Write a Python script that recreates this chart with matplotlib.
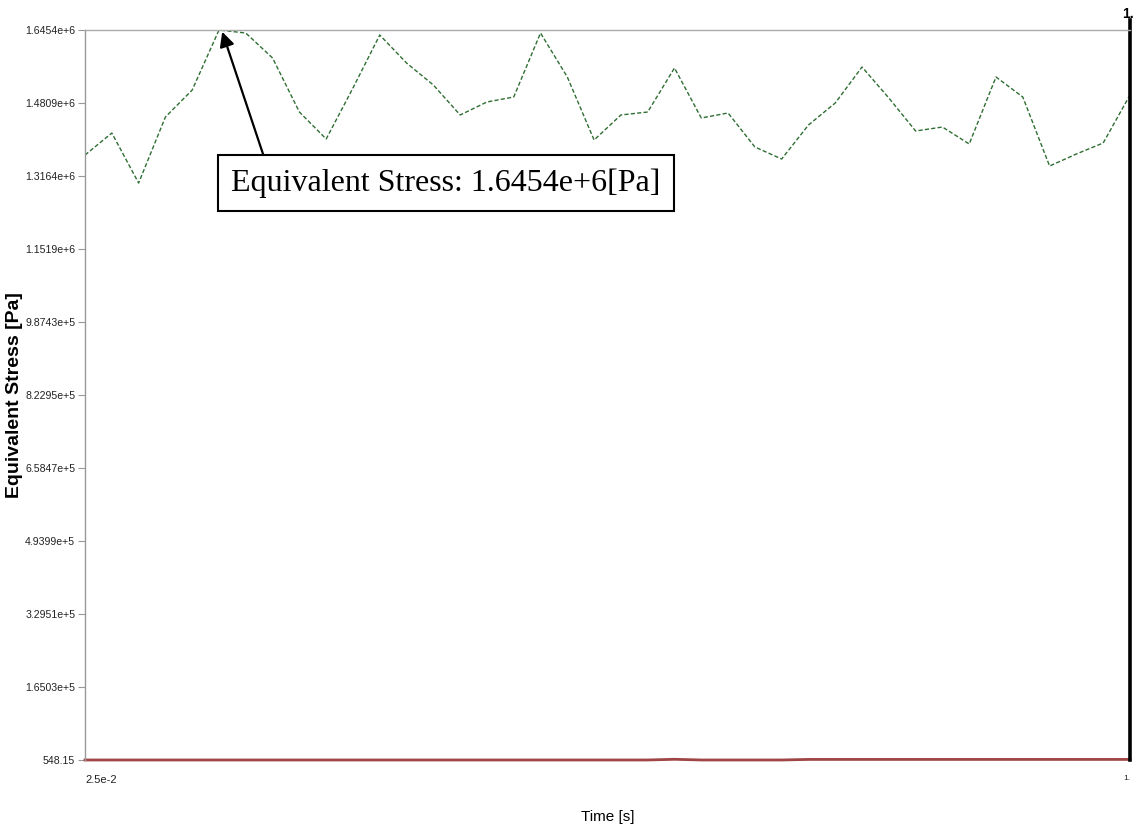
import numpy as np
import matplotlib.pyplot as plt

# time steps (s)
time = [0.025 * (i + 1) for i in range(40)]

# maximum equivalent stress (Pa)
stress_max = [1.3637e6, 1.4133e6, 1.3006e6, 1.4494e6, 1.5102e6, 1.6454e6, 1.6386e6, 1.5823e6,
              1.4606e6, 1.3998e6, 1.5147e6, 1.6341e6, 1.5710e6, 1.5215e6, 1.4539e6, 1.4832e6,
              1.4944e6, 1.6386e6, 1.5395e6, 1.3975e6, 1.4539e6, 1.4606e6, 1.5598e6, 1.4471e6,
              1.4584e6, 1.3818e6, 1.3547e6, 1.4313e6, 1.4809e6, 1.5620e6, 1.4922e6, 1.4178e6,
              1.4268e6, 1.3885e6, 1.5395e6, 1.4944e6, 1.3389e6, 1.3660e6, 1.3908e6, 1.4989e6]

# minimum equivalent stress (Pa)
stress_min = [548.15] * 21 + [548.15, 2100.0, 548.15, 548.15, 548.15, 548.15] + [1800.0] * 13

y_lo = 548.15
y_hi = 1.6454e6
y_ticks = np.linspace(y_lo, y_hi, 11)
y_labels = ['548.15', '1.6503e+5', '3.2951e+5', '4.9399e+5', '6.5847e+5', '8.2295e+5',
            '9.8743e+5', '1.1519e+6', '1.3164e+6', '1.4809e+6', '1.6454e+6']

tick_font = 'Liberation Sans'

fig = plt.figure(figsize=(11.43, 8.38), dpi=100)
ax = fig.add_axes([0.0744, 0.0931, 0.9142, 0.8711])

ax.plot(time, stress_max, color='#2f6e33', lw=1.0, linestyle=(0, (3, 1.6)))
ax.plot(time, stress_min, color='#a04545', lw=2.0, clip_on=False)
ax.axvline(1.0, ymin=0, ymax=1.014, color='black', lw=2.6, clip_on=False)

ax.set_xlim(0.025, 1.0)
ax.set_ylim(y_lo, y_hi)

ax.set_yticks(y_ticks)
ax.set_yticklabels(y_labels, family=tick_font, fontsize=7.6, color='#222222')
ax.tick_params(axis='y', length=5, color='#999999', pad=2)
ax.set_xticks([])

for s in ['right', 'bottom']:
    ax.spines[s].set_visible(False)
ax.spines['left'].set_color('#999999')
ax.spines['top'].set_color('#aaaaaa')
ax.spines['left'].set_linewidth(1.0)
ax.spines['top'].set_linewidth(1.0)

# x-axis end labels
ax.text(0.0, -0.02, '2.5e-2', transform=ax.transAxes, ha='left', va='top',
        family=tick_font, fontsize=8, color='#222222')
ax.text(0.997, -0.02, '1.', transform=ax.transAxes, ha='center', va='top',
        family=tick_font, fontsize=6, color='#222222')
ax.text(0.998, 1.012, '1.', transform=ax.transAxes, ha='center', va='bottom',
        fontsize=10, fontweight='bold', family='Liberation Sans')

ax.set_xlabel('Time [s]', family=tick_font, fontsize=11, labelpad=36)
ax.set_ylabel('Equivalent Stress [Pa]', family='Liberation Sans', fontsize=14,
              fontweight='bold')
ax.yaxis.set_label_coords(-0.059, 0.5)

ax.annotate('Equivalent Stress: 1.6454e+6[Pa]', xy=(time[5] + 0.003, stress_max[5] - 4000),
            xytext=(0.3455, 0.79), textcoords='axes fraction', ha='center', va='center',
            family='Liberation Serif', fontsize=23,
            bbox=dict(boxstyle='square,pad=0.42', fc='white', ec='black', lw=1.5),
            arrowprops=dict(arrowstyle='-|>', color='black', lw=1.6, mutation_scale=22,
                            relpos=(0.085, 1.0), shrinkA=0, shrinkB=0))

fig.savefig('out.png', dpi=100)
